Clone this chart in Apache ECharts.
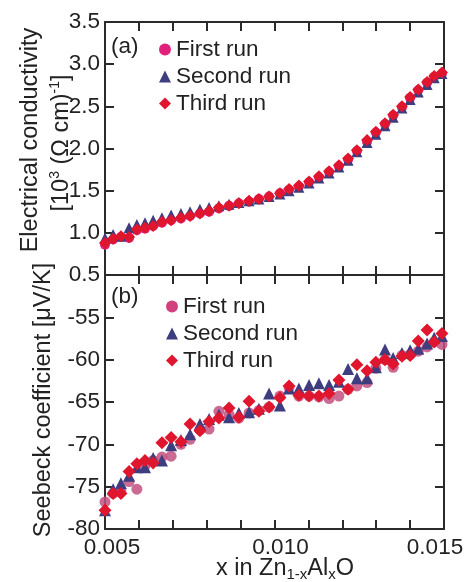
<!DOCTYPE html>
<html>
<head>
<meta charset="utf-8">
<script src="https://cdn.jsdelivr.net/npm/echarts@6/dist/echarts.min.js"></script>
<style>html,body{margin:0;padding:0;background:#fff}#c{width:468px;height:582px}</style>
</head>
<body>
<div id="c"></div>
<script>
// Composition x in Zn(1-x)Al(x)O (shared by all runs)
const xVals = [0.00500,0.00524,0.00547,0.00571,0.00594,0.00618,0.00642,0.00668,0.00695,0.00724,
  0.00751,0.00780,0.00807,0.00836,0.00866,0.00895,0.00925,0.00954,0.00984,0.01016,
  0.01043,0.01072,0.01102,0.01131,0.01161,0.01190,0.01217,0.01243,0.01273,0.01299,
  0.01326,0.01350,0.01376,0.01400,0.01424,0.01450,0.01471,0.01494];

// (a) Electrical conductivity [10^3 (Ohm cm)^-1]
const condFirst = [0.86,0.92,0.95,0.94,1.03,1.05,1.08,1.12,1.15,1.17,1.20,1.23,1.25,1.29,1.32,1.35,1.37,1.40,1.43,1.47,
  1.51,1.55,1.60,1.66,1.72,1.79,1.87,1.97,2.08,2.19,2.29,2.39,2.49,2.60,2.69,2.78,2.85,2.89];
const condSecond = [0.94,0.98,0.96,1.06,1.10,1.12,1.15,1.18,1.21,1.23,1.25,1.28,1.30,1.32,1.34,1.36,1.38,1.40,1.43,1.46,
  1.50,1.54,1.59,1.65,1.71,1.78,1.86,1.96,2.07,2.17,2.27,2.37,2.48,2.58,2.67,2.76,2.84,2.89];
const condThird = [0.88,0.93,0.96,0.95,1.04,1.06,1.08,1.13,1.15,1.18,1.20,1.23,1.26,1.30,1.32,1.35,1.38,1.40,1.43,1.47,
  1.52,1.56,1.61,1.67,1.73,1.80,1.88,1.98,2.10,2.20,2.30,2.40,2.50,2.61,2.70,2.79,2.86,2.90];

// (b) Seebeck coefficient [uV/K]
const seebFirst = [-76.8,-75.8,-75.6,-74.4,-75.3,-72.5,-71.9,-71.5,-71.4,-70.0,-69.4,-68.3,-68.2,-66.1,-66.5,-66.9,-66.3,-66.0,-65.6,-64.3,
  -63.3,-64.3,-64.3,-64.4,-64.6,-64.3,-63.5,-63.1,-62.7,-61.0,-60.0,-60.9,-59.5,-59.4,-59.0,-58.5,-57.9,-58.2];
const seebSecond = [-77.8,-75.3,-74.6,-73.7,-72.7,-72.7,-71.6,-71.9,-70.1,-69.5,-68.8,-67.6,-67.0,-66.5,-66.8,-66.3,-66.2,-65.8,-64.0,-65.4,
  -63.4,-63.4,-63.0,-62.8,-63.0,-62.6,-61.1,-62.2,-62.2,-60.9,-58.8,-59.8,-59.2,-58.9,-58.7,-58.1,-57.4,-57.2];
const seebThird = [-77.8,-75.8,-75.8,-73.2,-72.3,-71.9,-72.2,-69.8,-69.2,-69.7,-67.6,-68.4,-67.3,-66.9,-65.7,-66.8,-64.9,-66.1,-65.6,-64.5,
  -63.1,-64.2,-64.3,-64.3,-64.0,-62.4,-63.5,-60.6,-61.3,-60.3,-60.0,-60.5,-59.6,-59.5,-57.8,-56.5,-57.9,-56.9];

const runNames = ['First run','Second run','Third run'];
const xTickLabels = ['0.005','0.010','0.015'];
const condTicks = [0.5,1.0,1.5,2.0,2.5,3.0,3.5];
const seebTicks = [-80,-75,-70,-65,-60,-55,-50];

const FONT = '"Liberation Sans", Arial, Helvetica, sans-serif';
const AX = '#2a2a2a';
const C1 = '#e0207a', C1b = '#c2507f', C2 = '#3d3d80', C3 = '#e0162e';
const FS = 22.5, FN = 23.5;

const pair = arr => xVals.map((x, i) => [x, arr[i]]);

function xAx(grid, pos, labels) {
  const lab = { fontFamily: FONT, fontSize: FS, color: '#222' };
  return {
    type: 'value', gridIndex: grid, position: pos,
    min: 0.005, max: 0.015, interval: 0.001,
    axisLine: { show: true, onZero: false, lineStyle: { color: AX, width: 2 } },
    axisTick: { show: true, inside: true, length: 9, lineStyle: { color: AX, width: 2 } },
    splitLine: { show: false },
    axisLabel: {
      show: labels, margin: 7, color: '#222', fontFamily: FONT, fontSize: FS,
      rich: {
        a: Object.assign({ padding: [0, 0, 0, 14] }, lab),
        b: Object.assign({ padding: [0, 0, 0, 12] }, lab),
        c: Object.assign({ padding: [0, 18, 0, 0] }, lab)
      },
      formatter: v => {
        const s = v.toFixed(3);
        const k = xTickLabels.indexOf(s);
        return k >= 0 ? '{' + 'abc'[k] + '|' + s + '}' : '';
      }
    }
  };
}
function yAx(grid, pos, labels, ticks, dec) {
  return {
    type: 'value', gridIndex: grid, position: pos,
    min: ticks[0], max: ticks[ticks.length - 1], interval: ticks[1] - ticks[0],
    axisLine: { show: true, onZero: false, lineStyle: { color: AX, width: 2 } },
    axisTick: { show: true, inside: true, length: 9, lineStyle: { color: AX, width: 2 } },
    splitLine: { show: false },
    axisLabel: {
      show: labels, margin: 5, color: '#222', fontFamily: FONT, fontSize: FS,
      showMaxLabel: grid === 0, showMinLabel: true,
      formatter: v => v.toFixed(dec)
    }
  };
}

function sc(name, data, xi, yi, symbol, size, color, opacity) {
  return {
    type: 'scatter', name, data, xAxisIndex: xi, yAxisIndex: yi,
    symbol, symbolSize: size,
    itemStyle: { color, opacity: opacity || 1 },
    emphasis: { disabled: true }
  };
}

const chart = echarts.init(document.getElementById('c'), null, { renderer: 'canvas' });
chart.setOption({
  animation: false,
  backgroundColor: '#fff',
  grid: [
    { left: 105, top: 22, width: 339, height: 253 },
    { left: 105, top: 275, width: 339, height: 254 }
  ],
  xAxis: [xAx(0, 'bottom', false), xAx(0, 'top', false), xAx(1, 'bottom', true), xAx(1, 'top', false)],
  yAxis: [yAx(0, 'left', true, condTicks, 1), yAx(0, 'right', false, condTicks, 1),
          yAx(1, 'left', true, seebTicks, 0), yAx(1, 'right', false, seebTicks, 0)],
  legend: [
    {
      orient: 'vertical', left: 154, top: 33, itemGap: 4, itemWidth: 12, itemHeight: 12,
      textStyle: { fontFamily: FONT, fontSize: FS, color: '#222' }, selectedMode: false,
      data: [
        { name: runNames[0], icon: 'circle', itemStyle: { color: C1 } },
        { name: runNames[1], icon: 'triangle', itemStyle: { color: C2 } },
        { name: runNames[2], icon: 'diamond', itemStyle: { color: C3 } }
      ]
    },
    {
      orient: 'vertical', left: 161, top: 290, itemGap: 4, itemWidth: 12, itemHeight: 12,
      textStyle: { fontFamily: FONT, fontSize: FS, color: '#222' }, selectedMode: false,
      data: [
        { name: runNames[0], icon: 'circle', itemStyle: { color: '#d2407e' } },
        { name: runNames[1], icon: 'triangle', itemStyle: { color: C2 } },
        { name: runNames[2], icon: 'diamond', itemStyle: { color: C3 } }
      ]
    }
  ],
  series: [
    sc(runNames[0], pair(condFirst), 0, 0, 'circle', 10, C1),
    sc(runNames[1], pair(condSecond), 0, 0, 'triangle', 11, C2),
    sc(runNames[2], pair(condThird), 0, 0, 'diamond', 12, C3),
    sc(runNames[0], pair(seebFirst), 2, 2, 'circle', 11, C1b, 0.85),
    sc(runNames[1], pair(seebSecond), 2, 2, 'triangle', 12, C2),
    sc(runNames[2], pair(seebThird), 2, 2, 'diamond', 13, C3)
  ],
  graphic: [
    { type: 'text', left: 111, top: 35, style: { text: '(a)', font: FS + 'px ' + FONT, fill: '#222' } },
    { type: 'text', left: 111, top: 285, style: { text: '(b)', font: FS + 'px ' + FONT, fill: '#222' } },
    { type: 'text', x: 31, y: 140, rotation: Math.PI / 2,
      style: { text: 'Electrical conductivity', font: FN + 'px ' + FONT, fill: '#222', align: 'center', verticalAlign: 'middle' } },
    { type: 'text', x: 62, y: 143, rotation: Math.PI / 2,
      style: { text: '[10{sup|3} (\u03A9 cm){sup|-1}]', font: FN + 'px ' + FONT, fill: '#222', align: 'center', verticalAlign: 'middle',
        rich: { sup: { fontSize: 14, fontFamily: FONT, fill: '#222', padding: [0, 0, 13, 0] } } } },
    { type: 'text', x: 44, y: 400, rotation: Math.PI / 2,
      style: { text: 'Seebeck coefficient [\u03BCV/K]', font: FN + 'px ' + FONT, fill: '#222', align: 'center', verticalAlign: 'middle' } },
    { type: 'text', x: 285, y: 569,
      style: { text: 'x in Zn{sub|1-x}Al{sub|x}O', font: FN + 'px ' + FONT, fill: '#222', align: 'center', verticalAlign: 'middle',
        rich: { sub: { fontSize: 15, fontFamily: FONT, fill: '#222', padding: [11, 0, 0, 0] } } } }
  ]
});
</script>
</body>
</html>
